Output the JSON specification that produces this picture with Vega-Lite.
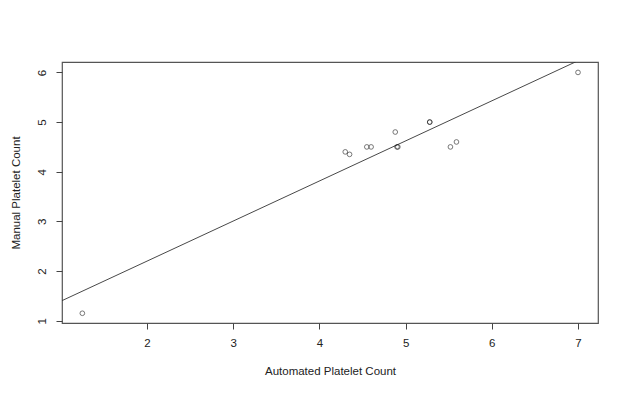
{
  "$schema": "https://vega.github.io/schema/vega-lite/v6.json",
  "autosize": {"type": "none"},
  "width": 536,
  "height": 261,
  "padding": {"left": 62, "top": 62, "right": 24, "bottom": 71},
  "background": "white",
  "config": {
    "view": {"stroke": "#555", "strokeWidth": 1.2},
    "font": "Liberation Sans",
    "axis": {
      "grid": false,
      "domain": false,
      "tickColor": "#444",
      "tickSize": 6,
      "labelFont": "Liberation Sans",
      "labelFontSize": 11.5,
      "labelColor": "#222",
      "titleFont": "Liberation Sans",
      "titleFontSize": 11.5,
      "titleFontWeight": "normal",
      "titleColor": "#222"
    }
  },
  "layer": [
    {
      "data": {"values": [
        {"x": 0.8, "y": 1.2316},
        {"x": 7.4, "y": 6.5578}
      ]},
      "mark": {"type": "line", "color": "#333", "strokeWidth": 0.9, "clip": true},
      "encoding": {
        "x": {"field": "x", "type": "quantitative"},
        "y": {"field": "y", "type": "quantitative"}
      }
    },
    {
      "data": {"values": [
        {"auto": 1.25, "manual": 1.15},
        {"auto": 4.3, "manual": 4.4},
        {"auto": 4.35, "manual": 4.35},
        {"auto": 4.55, "manual": 4.5},
        {"auto": 4.6, "manual": 4.5},
        {"auto": 4.88, "manual": 4.8},
        {"auto": 4.9, "manual": 4.5},
        {"auto": 4.91, "manual": 4.5},
        {"auto": 5.28, "manual": 5.0},
        {"auto": 5.28, "manual": 5.0},
        {"auto": 5.52, "manual": 4.5},
        {"auto": 5.59, "manual": 4.6},
        {"auto": 7.0, "manual": 6.0}
      ]},
      "mark": {"type": "point", "shape": "circle", "filled": false, "color": "#111", "strokeWidth": 0.8, "size": 22},
      "encoding": {
        "x": {
          "field": "auto", "type": "quantitative",
          "scale": {"domain": [1.014, 7.232], "nice": false, "zero": false},
          "axis": {"values": [2, 3, 4, 5, 6, 7], "format": "d", "title": "Automated Platelet Count", "labelPadding": 8, "titlePadding": 17}
        },
        "y": {
          "field": "manual", "type": "quantitative",
          "scale": {"domain": [0.954, 6.21], "nice": false, "zero": false},
          "axis": {"values": [1, 2, 3, 4, 5, 6], "format": "d", "title": "Manual Platelet Count", "labelAngle": -90, "labelAlign": "center", "labelBaseline": "bottom", "labelPadding": 9, "titlePadding": 15}
        }
      }
    }
  ]
}
